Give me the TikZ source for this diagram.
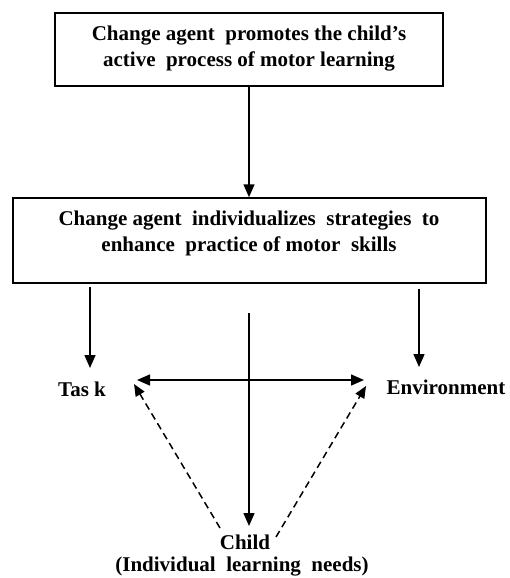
\documentclass[tikz,border=0pt]{standalone}
\usepackage{fontspec}
\setmainfont{Liberation Serif}
\usetikzlibrary{arrows.meta}
\begin{document}
\begin{tikzpicture}[x=1pt,y=-1pt,
  box/.style={draw,line width=1.5pt,inner sep=0pt},
  lbl/.style={font=\fontsize{21}{26}\selectfont\bfseries,align=center,inner sep=0pt},
  arr/.style={line width=1.5pt,-{Triangle[length=13pt,width=11pt]}},
  darr/.style={line width=1.5pt,dash pattern=on 7pt off 4.5pt,-{Triangle[length=12pt,width=10pt]}}]
\useasboundingbox (0,0) rectangle (510,578);
\node[box,minimum width=388pt,minimum height=73pt] (b1) at (249,49.5) {};
\node[lbl] (t1) at (249,48.5) {Change agent\ \ promotes the child’s\\active\ \ process of motor learning};
\node[box,minimum width=473pt,minimum height=85pt] (b2) at (249.5,240.5) {};
\node[lbl] (t2) at (249,233) {Change agent\ \ individualizes\ \ strategies\ \ to\\enhance\ \ practice of motor\ \ skills};
\coordinate (tl) at (90,287);
\coordinate (tr) at (419,289);
\coordinate (cm) at (249,313);
\coordinate (tt) at (90,368);
\coordinate (et) at (419,367);
\node[lbl] (task) at (82,389) {Tas k};
\node[lbl] (env) at (446,387) {Environment};
\node[lbl] (child) at (245,542) {Child};
\node[lbl] (needs) at (242,567) {(Individual\ \ learning\ \ needs)};
\coordinate (h1) at (137,380);
\coordinate (h2) at (364,380);
\coordinate (cb) at (249,526);
\coordinate (dl0) at (220,528);
\coordinate (dl1) at (134,384);
\coordinate (dr0) at (276,537);
\coordinate (dr1) at (366,386);
\draw[arr] (b1.south -| cm) -- (b2.north -| cm);
\draw[arr] (tl) -- (tt);
\draw[arr] (tr) -- (et);
\draw[arr] (cm) -- (cb);
\draw[arr,{Triangle[length=13pt,width=11pt]}-{Triangle[length=13pt,width=11pt]}] (h1) -- (h2);
\draw[darr] (dl0) -- (dl1);
\draw[darr] (dr0) -- (dr1);
\end{tikzpicture}
\end{document}
